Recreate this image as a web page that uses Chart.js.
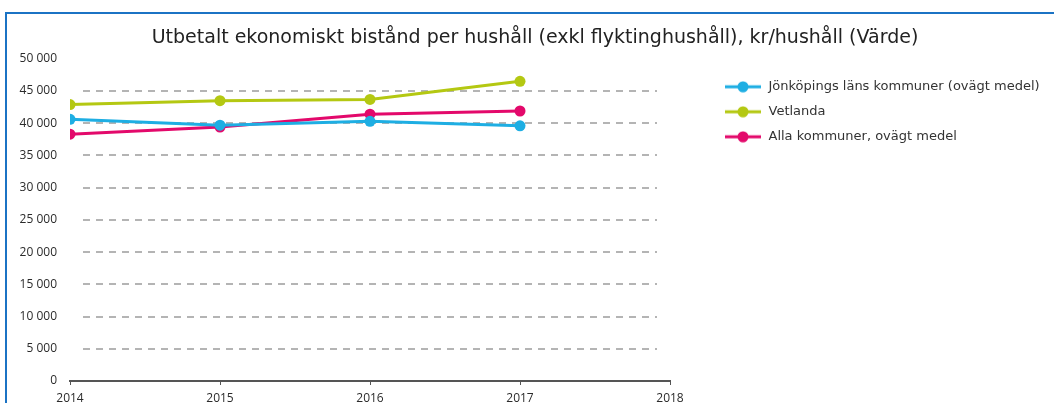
<!DOCTYPE html>
<html>
<head>
<meta charset="utf-8">
<script src="https://cdn.jsdelivr.net/npm/chart.js@4.4.1/dist/chart.umd.min.js"></script>
<style>
  html, body { margin: 0; padding: 0; background: #fff; }
  #wrap { position: relative; width: 1054px; height: 403px; overflow: hidden; }
  #frame { position: absolute; left: 5px; top: 12px; width: 1049px; height: 391px;
           border-top: 2px solid #1b73c4; border-left: 2px solid #1b73c4; box-sizing: border-box; pointer-events: none; }
  canvas { position: absolute; left: 0; top: 0; }
</style>
</head>
<body>
<div id="wrap">
  <canvas id="c" width="1054" height="403"></canvas>
  <div id="frame"></div>
</div>
<script>
const titleText = 'Utbetalt ekonomiskt bistånd per hushåll (exkl flyktinghushåll), kr/hushåll (Värde)';
const years = [2014, 2015, 2016, 2017];
const seriesNames = ['Jönköpings läns kommuner (ovägt medel)', 'Vetlanda', 'Alla kommuner, ovägt medel'];
const jonkoping = [40600, 39700, 40300, 39600];
const vetlanda = [42900, 43500, 43700, 46500];
const allaKommuner = [38300, 39400, 41400, 41900];
const seriesColors = ['#1eaee3', '#b4c812', '#e3096b'];
const yTicks = [0, 5000, 10000, 15000, 20000, 25000, 30000, 35000, 40000, 45000, 50000];

function legendIcon(color) {
  const cv = document.createElement('canvas');
  cv.width = 36; cv.height = 12;
  const g = cv.getContext('2d');
  g.strokeStyle = color; g.lineWidth = 3;
  g.beginPath(); g.moveTo(0, 6); g.lineTo(36, 6); g.stroke();
  g.fillStyle = color;
  g.beginPath(); g.arc(18, 6, 5.5, 0, Math.PI * 2); g.fill();
  return cv;
}
const icons = seriesColors.map(legendIcon);

function mk(vals, i) {
  return {
    label: seriesNames[i],
    data: years.map((y, k) => ({ x: y, y: vals[k] })),
    borderColor: seriesColors[i],
    backgroundColor: seriesColors[i],
    borderWidth: 3,
    pointRadius: 5.5,
    pointHoverRadius: 5.5,
    pointBorderWidth: 0,
    tension: 0
  };
}

const gridPlugin = {
  id: 'insetGrid',
  beforeDatasetsDraw(chart) {
    const y = chart.scales.y, a = chart.chartArea, ctx = chart.ctx;
    ctx.save();
    ctx.strokeStyle = '#9c9c9c';
    ctx.lineWidth = 1.5;
    ctx.setLineDash([7, 6]);
    yTicks.forEach(v => {
      if (v === 0 || v === 50000) return;
      const py = Math.round(y.getPixelForValue(v));
      ctx.beginPath();
      ctx.moveTo(a.left + 13, py);
      ctx.lineTo(a.right - 13, py);
      ctx.stroke();
    });
    ctx.restore();
  }
};

// Reserve the space right of the plot for the legend, start its items further right,
// and nudge the title to the reference's centre.
const legendPlace = {
  id: 'legendPlace',
  beforeUpdate(chart) {
    const lg = chart.legend;
    if (lg && !lg._patched) {
      const orig = lg.fit;
      lg.fit = function () { orig.call(this); this.width = 384; };
      lg._patched = true;
    }
  },
  afterLayout(chart) {
    const lg = chart.legend;
    if (lg) { const w = lg.right - lg.left; lg.left = 712; lg.right = lg.left + w; }
    const t = chart.titleBlock;
    if (t) { t.left += 8; t.right += 8; }
  }
};

new Chart(document.getElementById('c'), {
  type: 'line',
  data: { datasets: [mk(jonkoping, 0), mk(vetlanda, 1), mk(allaKommuner, 2)] },
  options: {
    responsive: false,
    animation: false,
    layout: { padding: { left: 0, right: 0, top: 0, bottom: 0 } },
    plugins: {
      tooltip: { enabled: false },
      title: {
        display: true, text: titleText, color: '#222',
        font: { family: 'DejaVu Sans', size: 19, weight: 'normal' },
        padding: { top: 27, bottom: 9 }
      },
      legend: {
        position: 'right', align: 'start', fullSize: false,
        title: { display: true, text: '', font: { size: 1, lineHeight: 1 }, padding: { top: 0, bottom: 8.5 } },
        labels: {
          usePointStyle: true, pointStyleWidth: 38,
          color: '#333', padding: 12,
          font: { family: 'DejaVu Sans', size: 13 },
          generateLabels(chart) {
            const items = Chart.defaults.plugins.legend.labels.generateLabels(chart);
            items.forEach((it, i) => { it.pointStyle = icons[i]; });
            return items;
          }
        }
      }
    },
    scales: {
      x: {
        type: 'linear', min: 2014, max: 2018,
        ticks: { stepSize: 1, color: '#2b2b2b', font: { family: 'Open Sans', size: 12 }, padding: 6,
                 callback: v => String(v), maxRotation: 0 },
        grid: { display: true, drawOnChartArea: false, drawTicks: true, tickLength: 4, color: '#555', lineWidth: 1 },
        border: { display: true, color: '#555', width: 2 },
        afterFit(s) { s.height = 22; }
      },
      y: {
        min: 0, max: 50000,
        afterBuildTicks(s) { s.ticks = yTicks.map(v => ({ value: v })); },
        ticks: { color: '#2b2b2b', font: { family: 'Open Sans', size: 12 }, padding: 13,
                 callback: v => String(v).replace(/\B(?=(\d{3})+(?!\d))/g, ' ') },
        grid: { display: false, drawTicks: false },
        border: { display: false },
        afterFit(s) { s.width = 70; }
      }
    }
  },
  plugins: [gridPlugin, legendPlace]
});
</script>
</body>
</html>
